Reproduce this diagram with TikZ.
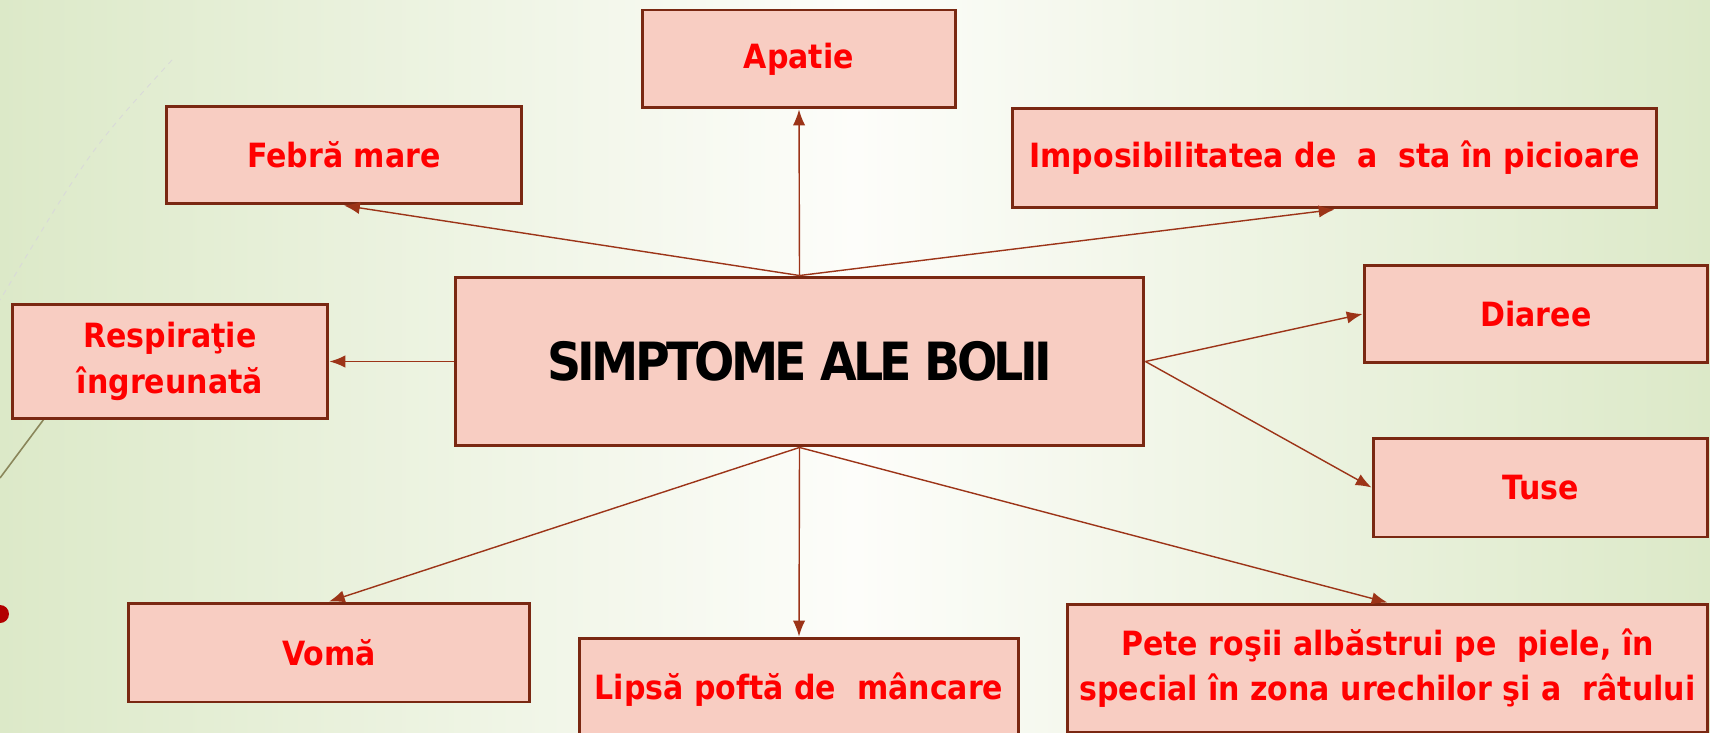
\documentclass[tikz,border=0pt]{standalone}
\usepackage{fontspec}
\setmainfont{DejaVu Sans Condensed}
\usetikzlibrary{shapes,arrows.meta,positioning}
\definecolor{boxfill}{HTML}{F8CDC2}
\definecolor{boxedge}{HTML}{7A2812}
\definecolor{linecol}{HTML}{9C3418}
\definecolor{bgside}{HTML}{DCE9C8}
\definecolor{bgmid}{HTML}{FDFDFA}
\tikzstyle{block} = [rectangle, draw=boxedge, line width=1.7pt, fill=boxfill, text=red,
    font=\fontsize{19}{26}\selectfont\bfseries, align=center, inner sep=0pt]
\tikzstyle{line} = [draw=linecol, line width=0.8pt, -{Latex[length=9pt,width=7pt]}]

\begin{document}
\begin{tikzpicture}[x=0.02cm, y=-0.02cm]
	\useasboundingbox (0,0) rectangle (1710,733);
	\clip (0,0) rectangle (1710,733);
	\shade[left color=bgside, right color=bgside, middle color=bgmid] (0,0) rectangle (1710,733);
	% decoration of the slide
	\draw[gray!30, dashed, line width=0.5pt] (172,60) .. controls (90,150) .. (0,300);
	\draw[black!50!olive!70, line width=0.9pt] (44,419) -- (0,478);
	\fill[red!70!black] (0,614) circle (9);

	\node [block, minimum width=13.78cm, minimum height=3.38cm, text=black,
	       font=\fontsize{30}{36}\selectfont\bfseries\addfontfeatures{LetterSpace=-7}] (simp) at (799.5,361.5) {SIMPTOME ALE BOLII};

	\node [block, minimum width=6.28cm, minimum height=1.96cm] (apatie) at (799,59) {Apatie};
	\node [block, minimum width=7.12cm, minimum height=1.96cm] (febra) at (344,155) {Febră mare};
	\node [block, minimum width=12.9cm, minimum height=2cm] (impos) at (1334.5,158) {Imposibilitatea de~ a~ sta în picioare};
	\node [block, minimum width=6.32cm, minimum height=2.3cm] (resp) at (170,361.5) {Respiraţie\\îngreunată};
	\node [block, minimum width=6.88cm, minimum height=1.96cm] (diaree) at (1536,314) {Diaree};
	\node [block, minimum width=6.7cm, minimum height=1.98cm] (tuse) at (1540.5,487.5) {Tuse};
	\node [block, minimum width=8.04cm, minimum height=1.98cm] (voma) at (329,652.5) {Vomă};
	\node [block, minimum width=8.8cm, minimum height=2.08cm] (lipsa) at (799,690) {Lipsă poftă de~ mâncare};
	\node [block, minimum width=12.82cm, minimum height=2.56cm] (pete) at (1387.5,668) {Pete roşii albăstrui pe~ piele, în\\special în zona urechilor şi a~ râtului};

	\path [line] (simp.north) -- (apatie.south);
	\path [line] (simp.north) -- (febra.south);
	\path [line] (simp.north) -- (impos.south);
	\path [line] (simp.west) -- (resp.east);
	\path [line] (simp.east) -- (diaree.west);
	\path [line] (simp.east) -- (tuse.west);
	\path [line] (simp.south) -- (voma.north);
	\path [line] (simp.south) -- (lipsa.north);
	\path [line] (simp.south) -- (pete.north);
\end{tikzpicture}
\end{document}
